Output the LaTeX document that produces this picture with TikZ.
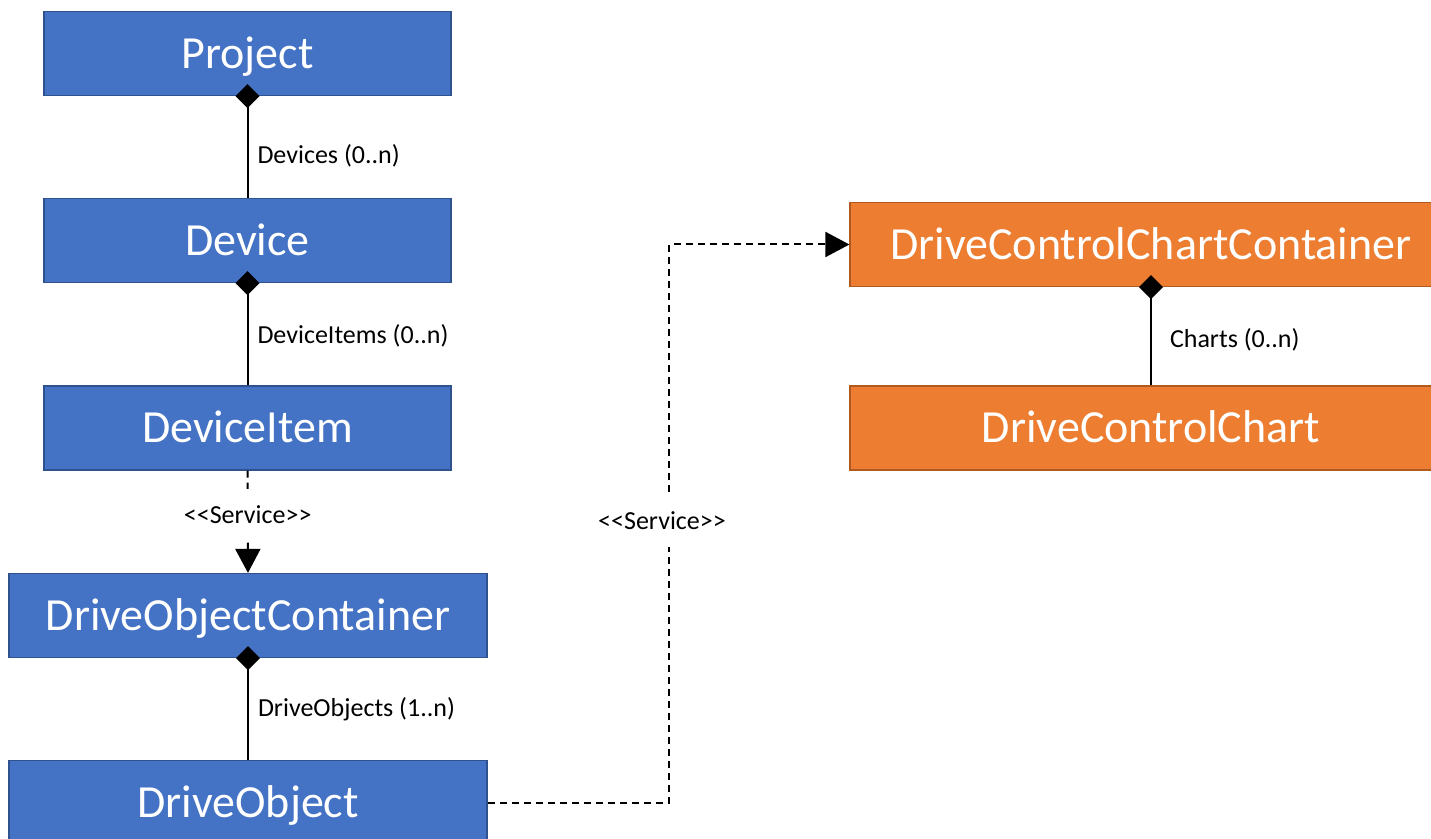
\documentclass[tikz,border=0pt]{standalone}
\usepackage{fontspec}
\setmainfont{Carlito}
\usetikzlibrary{arrows.meta}
\definecolor{classblue}{HTML}{4472C4}
\definecolor{classblueline}{HTML}{2F528F}
\definecolor{classorange}{HTML}{ED7D31}
\definecolor{classorangeline}{HTML}{AE5A21}
\newcommand{\svclabel}{<\kern0pt<Service>\kern0pt>}
\begin{document}
\begin{tikzpicture}[x=0.5pt,y=-0.5pt,
  classbox/.style={draw, line width=0.6pt, text=white, inner sep=0pt,
    font=\fontsize{23}{27}\selectfont, text height=15pt, text depth=0pt,
    minimum height=42pt},
  bluebox/.style={classbox, fill=classblue, draw=classblueline, minimum width=203.5pt},
  widebox/.style={bluebox, minimum width=239pt},
  orangebox/.style={classbox, fill=classorange, draw=classorangeline, minimum width=301pt},
  comp/.style={line width=1pt, {Diamond[length=12pt,width=12pt]}-},
  svcline/.style={line width=1pt, dash pattern=on 3.5pt off 2.5pt, -{Triangle[length=12pt,width=12.5pt]}},
  lbl/.style={font=\fontsize{13}{15}\selectfont, inner sep=1.5pt, right=3pt},
  svc/.style={font=\fontsize{13}{15}\selectfont, fill=white, inner xsep=1pt, minimum height=26pt}]
\useasboundingbox (0,0) rectangle (1431,839);
\node[bluebox] (project) at (247.5,53.5) {Project};
\node[bluebox] (device) at (247.5,240.5) {Device};
\node[bluebox] (deviceitem) at (247.5,428) {DeviceItem};
\node[widebox] (container) at (248,615.5) {DriveObjectContainer};
\node[widebox] (driveobject) at (248,802.5) {DriveObject};
\node[orangebox] (chartcontainer) at (1151,244.5) {DriveControlChartContainer};
\node[orangebox] (chart) at (1151,428) {DriveControlChart};
\coordinate (bend) at (669,521);
\draw[comp] ([yshift=6pt]project.south) -- (device.north) node[lbl, pos=0.63] {Devices (0..n)};
\draw[comp] ([yshift=6pt]device.south) -- (deviceitem.north) node[lbl, pos=0.57] {DeviceItems (0..n)};
\draw[comp] ([yshift=6pt]container.south) -- (driveobject.north) node[lbl, pos=0.555] {DriveObjects (1..n)};
\draw[comp] ([yshift=6pt]chartcontainer.south) -- (chart.north) node[lbl, right=4.5pt, pos=0.59] {Charts (0..n)};
\draw[svcline] (deviceitem.south) -- (container.north) node[svc, pos=0.43] {\svclabel};
\draw[svcline] (driveobject.east) -| (bend) node[svc, xshift=-3.5pt] {\svclabel} |- (chartcontainer.west);
\end{tikzpicture}
\end{document}
